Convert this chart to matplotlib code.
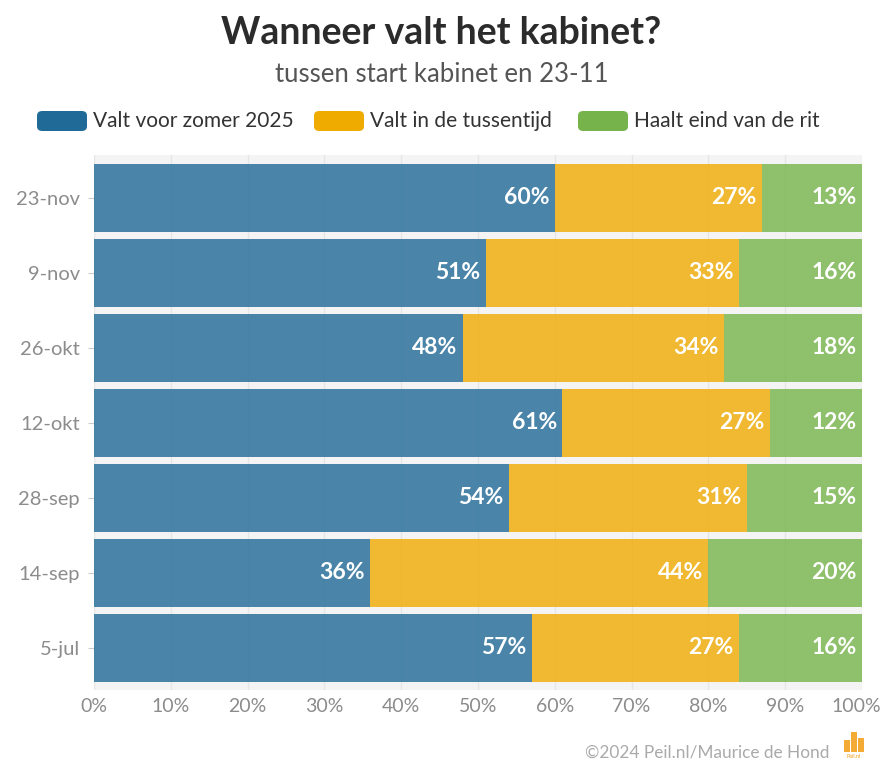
import matplotlib
matplotlib.use("Agg")
import matplotlib.pyplot as plt
import matplotlib.transforms as mtransforms
from matplotlib.patches import FancyBboxPatch, Rectangle
import numpy as np

categories = ["5-jul", "14-sep", "28-sep", "12-okt", "26-okt", "9-nov", "23-nov"]
valt_voor_zomer = [57, 36, 54, 61, 48, 51, 60]
valt_tussentijd = [27, 44, 31, 27, 34, 33, 27]
haalt_eind = [16, 20, 15, 12, 18, 16, 13]
series_names = ["Valt voor zomer 2025", "Valt in de tussentijd", "Haalt eind van de rit"]
series_colors = ["#1f6a96", "#f0ab00", "#76b34a"]
xticks = [0, 10, 20, 30, 40, 50, 60, 70, 80, 90, 100]

FONT = "Lato"
plt.rcParams['font.family'] = [FONT, 'DejaVu Sans']

fig = plt.figure(figsize=(8.83, 7.76), dpi=100)
ax = fig.add_axes([94/883, 1-690/776, (862-94)/883, (690-155)/776])
ax.set_facecolor("#f4f4f4")

y = np.arange(len(categories))
data = [valt_voor_zomer, valt_tussentijd, haalt_eind]
left = np.zeros(len(categories))
for vals, col in zip(data, series_colors):
    vals = np.array(vals, dtype=float)
    ax.barh(y, vals, left=left, height=0.907, color=col, alpha=0.8,
            edgecolor="none", zorder=3)
    for yi, l, v in zip(y, left, vals):
        ax.annotate(f"{int(v)}%", xy=(l + v, yi), xytext=(-4, 0),
                    textcoords="offset points", ha="right", va="center",
                    color="white", fontsize=16.5, fontweight="bold", zorder=4)
    left += vals

ax.set_xlim(0, 100)
ax.set_ylim(-0.56, 6.57)
ax.set_xticks(xticks)
ax.set_xticklabels([f"{t}%" for t in xticks])
ax.set_yticks(y)
ax.set_yticklabels(categories)
ax.tick_params(axis="both", colors="#cccccc", labelcolor="#8c8c8c", labelsize=14.5)
ax.tick_params(axis="y", length=4, pad=6)
ax.tick_params(axis="x", length=0, pad=6, labelsize=14)
ax.grid(axis="x", color="#e6e6e6", linewidth=1, zorder=0)
for s in ax.spines.values():
    s.set_visible(False)

# keep the last x tick label inside the canvas
last = ax.get_xticklabels()[-1]
last.set_transform(last.get_transform() +
                   mtransforms.ScaledTranslation(-6/100, 0, fig.dpi_scale_trans))

# Title and subtitle
fig.text(0.5, 1-33/776, "Wanneer valt het kabinet?", ha="center", va="center",
         fontsize=27, fontweight="bold", color="#2b2b2b")
fig.text(0.5, 1-74/776, "tussen start kabinet en 23-11", ha="center", va="center",
         fontsize=18.5, color="#555555")

# Legend (manual)
leg_x = [37, 314, 578]
for lx, name, col in zip(leg_x, series_names, series_colors):
    fig.patches.append(FancyBboxPatch((lx/883, 1-131/776), 50/883, 20/776,
                                      boxstyle="round,pad=0,rounding_size=0.006",
                                      transform=fig.transFigure, facecolor=col,
                                      edgecolor="none"))
    fig.text((lx+56)/883, 1-121/776, name, ha="left", va="center",
             fontsize=15, color="#333333")

# Footer
fig.text(829/883, 1-752/776, "©2024 Peil.nl/Maurice de Hond", ha="right", va="center",
         fontsize=12.4, color="#aaaaaa")
for bx, bh in [(844, 12), (851, 20), (858, 14)]:
    fig.patches.append(Rectangle((bx/883, 1-752/776), 6/883, bh/776,
                                 transform=fig.transFigure, facecolor="#f39c12",
                                 edgecolor="none", alpha=0.85))
fig.text(854/883, 1-757/776, "Peil.nl", ha="center", va="center", fontsize=4, color="#f39c12")

fig.savefig("out.png", dpi=100)
